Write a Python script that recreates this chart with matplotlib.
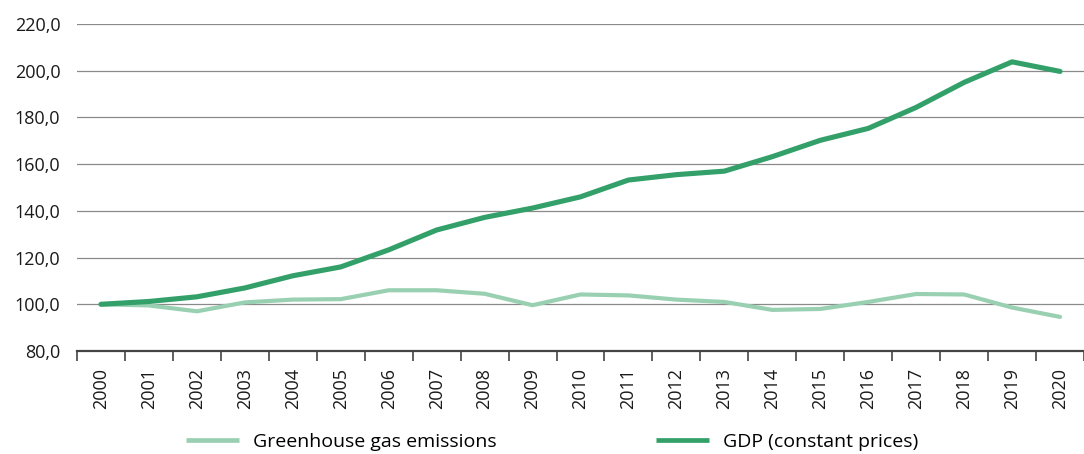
import matplotlib
matplotlib.use("Agg")
import matplotlib.pyplot as plt
from matplotlib.ticker import FixedLocator, FuncFormatter
import numpy as np

years = [str(y) for y in range(2000, 2021)]
ghg = [100.0, 99.5, 97.0, 100.8, 102.0, 102.2, 106.0, 106.0, 104.5, 99.6, 104.2,
       103.8, 102.0, 101.0, 97.6, 98.0, 101.0, 104.4, 104.2, 98.6, 94.6]
gdp = [100.0, 101.2, 103.2, 107.0, 112.2, 116.0, 123.3, 131.8, 137.2, 141.2, 146.0,
       153.2, 155.5, 157.0, 163.2, 170.2, 175.3, 184.3, 195.0, 203.8, 199.7]
yticks = [80, 100, 120, 140, 160, 180, 200, 220]

plt.rcParams['font.family'] = ['Open Sans', 'DejaVu Sans']
fig = plt.figure(figsize=(10.84, 4.54), dpi=100)
W, H = 1084, 454
ax = fig.add_axes([77 / W, 1 - 351 / H, (1084 - 77) / W, (351 - 24) / H])

x = np.arange(len(years))
c_ghg = '#99d0b2'
c_gdp = '#33a06a'
l1, = ax.plot(x, ghg, color=c_ghg, lw=3.0, solid_capstyle='round', solid_joinstyle='round',
              label='Greenhouse gas emissions', zorder=3)
l2, = ax.plot(x, gdp, color=c_gdp, lw=3.7, solid_capstyle='round', solid_joinstyle='round',
              label='GDP (constant prices)', zorder=4)

ax.set_ylim(80, 220)
ax.set_xlim(-0.5, -0.5 + (1084 - 77) / 48.5)
ax.yaxis.set_major_locator(FixedLocator(yticks))
ax.yaxis.set_major_formatter(FuncFormatter(lambda v, p: f"{v:.1f}".replace('.', ',')))
ax.grid(axis='y', color='#8a8a8a', lw=0.9)
ax.set_axisbelow(True)
for s in ['top', 'right', 'left']:
    ax.spines[s].set_visible(False)
ax.spines['bottom'].set_color('#444444')
ax.spines['bottom'].set_linewidth(1.6)
ax.tick_params(axis='y', length=0, pad=12, labelsize=13, labelcolor='#1a1a1a')

ax.set_xticks(x)
ax.set_xticklabels(years, rotation=90, fontsize=13, color='#1a1a1a')
ax.set_xticks(np.arange(-0.5, len(years) + 0.5, 1), minor=True)
ax.tick_params(axis='x', which='major', length=0, pad=12)
ax.tick_params(axis='x', which='minor', length=7, width=1.2, color='#444444')

fs = 14
px = fs * 100 / 72
for handle, x0 in [(l1, 186), (l2, 656)]:
    h = plt.Line2D([], [], color=handle.get_color(), lw=3.4, solid_capstyle='butt')
    leg = fig.legend(handles=[h], labels=[handle.get_label()], loc='center left',
                     bbox_to_anchor=(x0 / W, 1 - 442 / H), frameon=False, fontsize=fs,
                     handlelength=53 / px, handletextpad=14 / px, borderpad=0,
                     borderaxespad=0)
fig.savefig('out.png', dpi=100)
